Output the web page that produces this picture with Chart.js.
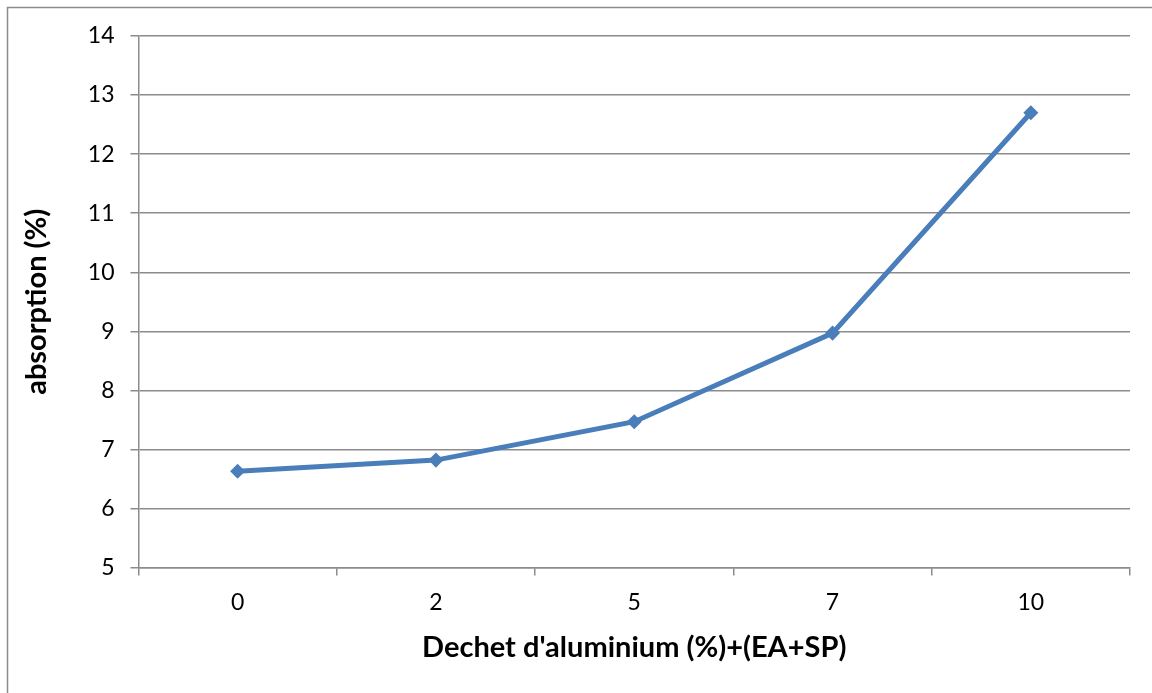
<!DOCTYPE html>
<html>
<head>
<meta charset="utf-8">
<script src="https://cdn.jsdelivr.net/npm/chart.js@4/dist/chart.umd.min.js"></script>
<style>
  html, body { margin: 0; padding: 0; background: #fff; }
  #wrap { position: absolute; left: 0; top: 0; width: 1152px; height: 693px; }
</style>
</head>
<body>
<div id="wrap"><canvas id="absChart" width="1152" height="693"></canvas></div>
<script>
// Absorption vs aluminium waste
const categories = ["0", "2", "5", "7", "10"];
const absorption = [6.63, 6.82, 7.47, 8.97, 12.7];
const yTicks = [5, 6, 7, 8, 9, 10, 11, 12, 13, 14];

const frameBorder = {
  id: "frameBorder",
  beforeDraw(chart) {
    const c = chart.ctx;
    c.save();
    c.strokeStyle = "#8c8c8c";
    c.lineWidth = 1.5;
    c.strokeRect(7.5, 7.5, 1152, 700);
    c.restore();
  },
};

document.addEventListener("DOMContentLoaded", function () {
  const ctx = document.getElementById("absChart").getContext("2d");
  new Chart(ctx, {
    type: "line",
    data: {
      labels: categories,
      datasets: [
        {
          label: "absorption (%)",
          data: absorption,
          borderColor: "#4a7ebb",
          backgroundColor: "#4a7ebb",
          borderWidth: 5,
          pointStyle: "rectRot",
          pointRadius: 4,
          tension: 0,
          fill: false,
        },
      ],
    },
    options: {
      responsive: false,
      animation: false,
      layout: { padding: { left: 15, right: 22, top: 36, bottom: 24 } },
      plugins: {
        legend: { display: false },
        tooltip: { enabled: false },
      },
      scales: {
        x: {
          type: "category",
          offset: true,
          grid: {
            offset: true,
            drawOnChartArea: false,
            color: "#8c8c8c",
            lineWidth: 1.5,
            tickLength: 8,
          },
          border: { color: "#8c8c8c", width: 1.5 },
          ticks: {
            color: "#000",
            font: { family: "Lato", size: 23 },
            padding: 13,
          },
          title: {
            display: true,
            text: "Dechet d'aluminium (%)+(EA+SP)",
            color: "#000",
            font: { family: "Lato", size: 29, weight: "bold" },
            padding: { top: 1 },
          },
        },
        y: {
          min: 5,
          max: 14,
          afterBuildTicks(axis) {
            axis.ticks = yTicks.map((v) => ({ value: v }));
          },
          grid: {
            color: "#8c8c8c",
            lineWidth: 1.5,
            tickLength: 8,
          },
          border: { color: "#8c8c8c", width: 1.5 },
          ticks: {
            color: "#000",
            font: { family: "Lato", size: 23 },
            padding: 16,
          },
          title: {
            display: true,
            text: "absorption (%)",
            color: "#000",
            font: { family: "Lato", size: 29, weight: "bold" },
            padding: { bottom: 18 },
          },
        },
      },
    },
    plugins: [frameBorder],
  });
});
</script>
</body>
</html>
